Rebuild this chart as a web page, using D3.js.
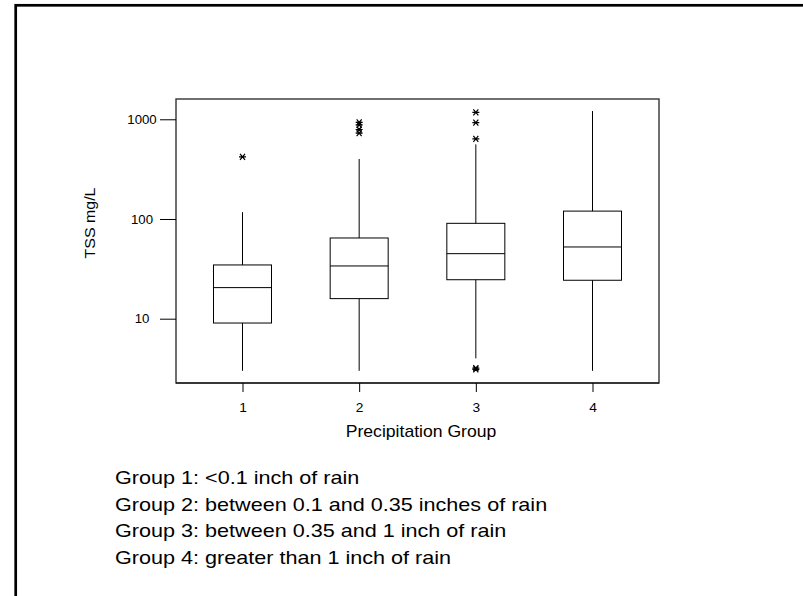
<!DOCTYPE html>
<html>
<head>
<meta charset="utf-8">
<script src="https://cdn.jsdelivr.net/npm/d3@7"></script>
<style>
html,body{margin:0;padding:0;background:#fff;}
svg{display:block;}
text{font-family:"Liberation Sans",Arial,sans-serif;fill:#000;}
</style>
</head>
<body>
<svg id="chart" width="803" height="596"></svg>
<script>
// ---- data ----
const groups = [1, 2, 3, 4];
const whiskerLow  = [3.0, 3.0, 4.0, 3.0];
const q1          = [9.05, 15.9, 24.6, 24.3];
const medians     = [20.5, 33.8, 44.9, 52.4];
const q3          = [34.6, 64.5, 90.5, 120];
const whiskerHigh = [117, 400, 560, 1210];
const outliers    = [[420], [930, 880, 790, 725], [1175, 925, 635, 3.2, 3.1], []];
const yTicks = [10, 100, 1000];
const yDomain = [2.265, 1598];
const xDomain = [0.43, 4.57];
const legendLines = [
  "Group 1: <0.1 inch of rain",
  "Group 2: between 0.1 and 0.35 inches of rain",
  "Group 3: between 0.35 and 1 inch of rain",
  "Group 4: greater than 1 inch of rain"
];

const svg = d3.select("#chart");

// outer frame
svg.append("rect").attr("x", 15.7).attr("y", 5.3).attr("width", 1000).attr("height", 1000)
  .attr("fill", "none").attr("stroke", "#000").attr("stroke-width", 2.7);

const L = 176, R = 659, T = 99, B = 383;
const x = d3.scaleLinear().domain(xDomain).range([L, R]);
const y = d3.scaleLog().domain(yDomain).range([B, T]);
const boxW = 58;

// plot frame
svg.append("rect").attr("x", L).attr("y", T).attr("width", R - L).attr("height", B - T)
  .attr("fill", "none").attr("stroke", "#333").attr("stroke-width", 1.4);

// y axis
const yAxis = d3.axisLeft(y).tickValues(yTicks).tickSize(16).tickPadding(0).tickFormat(d3.format("d"));
const gy = svg.append("g").attr("transform", `translate(${L},0)`).call(yAxis);
gy.select(".domain").remove();
gy.selectAll(".tick line").attr("stroke", "#000").attr("stroke-width", 1);
gy.selectAll(".tick text").attr("x", null).attr("dy", "0.35em").attr("text-anchor", "middle")
  .attr("transform", "translate(-34,0) scale(1.1,1)")
  .style("font-size", "12px").style("font-family", "Liberation Sans, Arial, sans-serif").attr("fill", "#000");

// x axis
const xAxis = d3.axisBottom(x).tickValues(groups).tickSize(9).tickPadding(0).tickFormat(d3.format("d"));
const gx = svg.append("g").attr("transform", `translate(0,${B})`).call(xAxis);
gx.select(".domain").remove();
gx.selectAll(".tick line").attr("stroke", "#000").attr("stroke-width", 1);
gx.selectAll(".tick text").attr("y", null).attr("dy", 0).attr("transform", "translate(0,28.5) scale(1.1,1)")
  .style("font-size", "12.5px").style("font-family", "Liberation Sans, Arial, sans-serif").attr("fill", "#000");

// bottom axis line
svg.append("line").attr("x1", L).attr("x2", R).attr("y1", B).attr("y2", B)
  .attr("stroke", "#000").attr("stroke-width", 1.2);

// boxes
const data = groups.map((g, i) => ({g, lo: whiskerLow[i], q1: q1[i], med: medians[i], q3: q3[i], hi: whiskerHigh[i], out: outliers[i]}));
const bx = svg.append("g");
data.forEach(d => {
  const cx = x(d.g);
  bx.append("line").attr("x1", cx).attr("x2", cx).attr("y1", y(d.q3)).attr("y2", y(d.hi)).attr("stroke", "#000");
  bx.append("line").attr("x1", cx).attr("x2", cx).attr("y1", y(d.q1)).attr("y2", y(d.lo)).attr("stroke", "#000");
  bx.append("rect").attr("x", cx - boxW / 2).attr("y", y(d.q3)).attr("width", boxW).attr("height", y(d.q1) - y(d.q3))
    .attr("fill", "none").attr("stroke", "#000").attr("stroke-width", 1);
  bx.append("line").attr("x1", cx - boxW / 2).attr("x2", cx + boxW / 2).attr("y1", y(d.med)).attr("y2", y(d.med))
    .attr("stroke", "#000").attr("stroke-width", 1);
  d.out.forEach(v => {
    const oy = y(v);
    bx.append("path")
      .attr("d", `M${cx-3.5},${oy}H${cx+3.5}M${cx-2.5},${oy-3}L${cx+2.5},${oy+3}M${cx-2.5},${oy+3}L${cx+2.5},${oy-3}`)
      .attr("stroke", "#000").attr("stroke-width", 1.2).attr("fill", "none");
  });
});

// axis titles
svg.append("text").attr("transform", "translate(421,436.5) scale(1.1,1)").attr("text-anchor", "middle")
  .style("font-size", "16px").text("Precipitation Group");
svg.append("text").attr("transform", "translate(95,223) rotate(-90) scale(1.1,1)").attr("text-anchor", "middle")
  .style("font-size", "14.5px").text("TSS mg/L");

// legend text
svg.append("g").selectAll("text").data(legendLines).join("text")
  .attr("transform", (d, i) => `translate(115,${484 + i * 26.7}) scale(1.2,1)`)
  .style("font-size", "18px").text(d => d);
</script>
</body>
</html>
